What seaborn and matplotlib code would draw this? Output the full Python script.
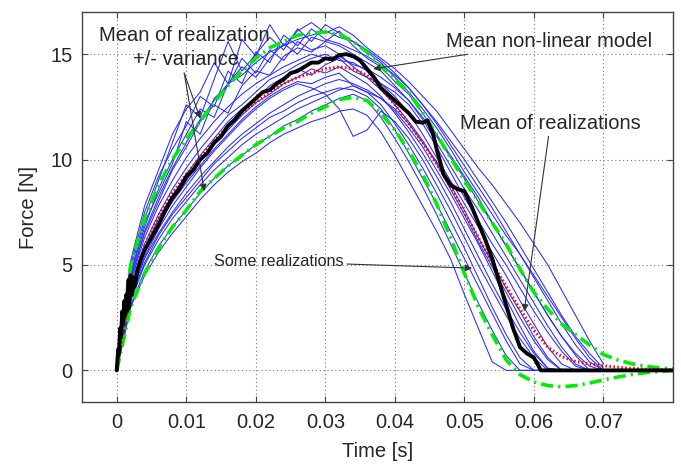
import numpy as np
import pandas as pd
import matplotlib
matplotlib.use("Agg")
import matplotlib.pyplot as plt
import seaborn as sns

# ---------------- data ----------------
# time grid of realizations, ms
t_real_ms = [0, 2, 4, 6, 8, 10, 12, 14, 16, 18, 20, 22, 24, 26, 28, 30, 32, 34,
             36, 38, 40, 42, 44, 46, 48, 50, 52, 54, 56, 58, 60, 62, 64, 66, 68, 70]

real_01 = [0, 5.2, 7.8, 9.5, 11.2, 12.4, 13.2, 14.6, 13.6, 15.7, 14.9, 16.4, 15.4, 16.1, 16.5, 16.0, 16.3, 15.9,
           15.3, 14.8, 14.3, 13.7, 13.0, 12.3, 11.4, 10.5, 9.6, 8.8, 7.9, 7.0, 6.0, 5.0, 3.8, 2.6, 1.4, 0.3]
real_02 = [0, 4.8, 7.2, 9.0, 10.8, 12.6, 12.0, 13.8, 15.6, 14.2, 15.0, 15.8, 15.2, 16.2, 15.6, 16.4, 16.0, 15.6,
           15.1, 14.6, 13.9, 13.2, 12.4, 11.5, 10.5, 9.4, 8.4, 7.4, 6.4, 5.5, 4.5, 3.5, 2.5, 1.5, 0.6, 0.0]
real_03 = [0, 4.5, 6.8, 8.6, 10.0, 11.2, 12.4, 12.0, 13.6, 14.4, 13.9, 14.8, 15.5, 15.0, 15.8, 15.6, 16.1, 15.4,
           14.8, 14.4, 13.7, 13.1, 12.2, 11.2, 10.2, 9.2, 8.2, 7.0, 5.9, 4.8, 3.7, 2.6, 1.6, 0.7, 0.0, 0.0]
real_04 = [0, 4.4, 6.5, 8.0, 9.5, 10.6, 11.8, 12.6, 12.2, 13.5, 14.2, 14.0, 14.9, 15.3, 15.1, 15.6, 15.4, 15.0,
           14.6, 14.2, 13.5, 12.8, 11.9, 10.8, 9.7, 8.6, 7.6, 6.5, 5.4, 4.3, 3.2, 2.1, 1.1, 0.3, 0.0, 0.0]
real_05 = [0, 4.0, 6.0, 7.4, 8.6, 9.6, 10.5, 11.3, 12.1, 12.6, 13.2, 13.8, 14.1, 14.5, 14.8, 15.0, 14.7, 14.6,
           14.2, 13.6, 13.0, 12.2, 11.2, 10.1, 9.0, 7.9, 6.8, 5.6, 4.5, 3.3, 2.2, 1.1, 0.3, 0.0, 0.0, 0.0]
real_06 = [0, 3.9, 5.8, 7.2, 8.3, 9.3, 10.2, 11.0, 11.8, 12.4, 12.9, 13.5, 13.9, 14.3, 14.0, 14.5, 14.8, 14.2,
           13.9, 13.3, 12.6, 11.8, 10.9, 9.8, 8.6, 7.4, 6.1, 4.9, 3.7, 2.5, 1.4, 0.5, 0.0, 0.0, 0.0, 0.0]
real_07 = [0, 3.8, 5.7, 7.0, 8.1, 9.0, 9.9, 10.7, 11.4, 12.1, 12.7, 13.1, 13.6, 13.9, 14.3, 14.1, 14.4, 14.0,
           13.6, 13.0, 12.2, 11.3, 10.3, 9.2, 8.0, 6.7, 5.4, 4.1, 2.9, 1.8, 0.8, 0.1, 0.0, 0.0, 0.0, 0.0]
real_08 = [0, 3.6, 5.4, 6.7, 7.8, 8.7, 9.6, 10.4, 11.1, 11.8, 12.4, 12.9, 13.3, 13.6, 13.4, 13.1, 12.4, 11.1,
           11.4, 12.3, 11.8, 11.0, 10.0, 8.8, 7.6, 6.3, 5.0, 3.8, 2.6, 1.5, 0.6, 0.0, 0.0, 0.0, 0.0, 0.0]
real_09 = [0, 3.3, 5.0, 6.2, 7.2, 8.0, 8.8, 9.5, 10.1, 10.7, 11.2, 11.6, 12.0, 12.4, 12.7, 13.0, 13.3, 13.5,
           13.2, 12.6, 11.7, 10.7, 9.6, 8.4, 7.1, 5.8, 4.4, 3.0, 1.7, 0.6, 0.0, 0.0, 0.0, 0.0, 0.0, 0.0]
real_10 = [0, 3.1, 4.7, 5.9, 6.8, 7.6, 8.4, 9.1, 9.7, 10.2, 10.7, 11.1, 11.6, 11.9, 12.3, 12.6, 12.9, 13.1,
           12.8, 12.0, 11.0, 9.9, 8.7, 7.4, 6.0, 4.6, 3.2, 1.9, 0.7, 0.0, 0.0, 0.0, 0.0, 0.0, 0.0, 0.0]
real_11 = [0, 3.0, 4.5, 5.6, 6.5, 7.3, 8.1, 8.8, 9.4, 9.9, 10.3, 10.8, 11.2, 11.5, 11.8, 12.0, 12.3, 12.4,
           12.1, 11.3, 10.2, 9.0, 7.8, 6.6, 5.3, 3.6, 2.0, 0.4, 0.0, 0.0, 0.0, 0.0, 0.0, 0.0, 0.0, 0.0]
real_12 = [0, 5.0, 7.5, 9.2, 10.5, 11.6, 13.0, 12.5, 14.2, 13.6, 15.1, 14.6, 15.9, 15.4, 16.2, 15.7, 15.5, 15.2,
           14.9, 14.5, 14.0, 13.4, 12.6, 11.8, 10.9, 10.0, 9.0, 8.0, 7.0, 5.9, 4.8, 3.7, 2.6, 1.6, 0.8, 0.1]
real_13 = [0, 3.5, 5.3, 6.5, 7.5, 8.4, 9.2, 9.9, 10.6, 11.2, 11.7, 12.2, 12.6, 13.0, 13.3, 13.6, 13.8, 13.6,
           13.3, 12.9, 12.3, 11.5, 10.6, 9.5, 8.4, 7.2, 6.0, 4.7, 3.4, 2.1, 0.9, 0.1, 0.0, 0.0, 0.0, 0.0]
real_14 = [0, 4.2, 6.3, 7.8, 9.0, 10.1, 11.0, 11.8, 12.5, 13.1, 13.6, 14.0, 14.4, 14.7, 15.0, 14.8, 14.9, 14.5,
           14.3, 13.9, 13.4, 12.8, 12.0, 11.1, 10.1, 9.1, 8.0, 7.0, 5.9, 4.8, 3.7, 2.6, 1.6, 0.8, 0.2, 0.0]
real_15 = [0, 4.6, 7.0, 8.4, 9.8, 11.8, 11.2, 12.9, 13.5, 14.8, 14.1, 15.2, 14.7, 15.6, 15.2, 15.4, 15.0, 14.4,
           13.9, 13.6, 13.2, 12.6, 11.7, 10.6, 9.4, 8.2, 7.1, 6.0, 5.0, 3.9, 2.8, 1.8, 0.9, 0.2, 0.0, 0.0]
real_16 = [0, 3.4, 5.1, 6.4, 7.4, 8.2, 9.0, 9.8, 10.4, 11.0, 11.5, 12.0, 12.3, 12.7, 13.0, 13.2, 13.4, 13.3,
           13.0, 12.4, 11.4, 10.3, 9.1, 7.9, 6.6, 5.3, 4.0, 2.7, 1.4, 0.3, 0.0, 0.0, 0.0, 0.0, 0.0, 0.0]
real_17 = [0, 4.3, 6.6, 8.2, 9.6, 10.8, 11.9, 12.8, 13.6, 14.0, 14.6, 15.1, 15.4, 15.7, 15.9, 16.1, 15.8, 15.6,
           15.2, 14.7, 14.1, 13.4, 12.6, 11.7, 10.7, 9.7, 8.7, 7.7, 6.6, 5.5, 4.4, 3.3, 2.2, 1.2, 0.4, 0.0]
real_18 = [0, 3.7, 5.6, 6.9, 8.0, 8.9, 9.7, 10.5, 11.2, 11.9, 12.5, 13.0, 13.4, 13.7, 13.6, 13.9, 14.1, 13.5,
           13.2, 12.9, 12.4, 11.7, 10.8, 9.9, 8.8, 7.6, 6.3, 5.1, 3.9, 2.8, 1.6, 0.6, 0.0, 0.0, 0.0, 0.0]
realizations = [real_01, real_02, real_03, real_04, real_05, real_06, real_07, real_08, real_09,
                real_10, real_11, real_12, real_13, real_14, real_15, real_16, real_17, real_18]

# statistics grid, ms
t_stat_ms = [0, 2, 4, 6, 8, 10, 12, 14, 16, 18, 20, 22, 24, 26, 28, 30, 32, 34, 36, 38,
             40, 42, 44, 46, 48, 50, 52, 54, 56, 58, 60, 62, 64, 66, 68, 70, 72, 74, 76, 78, 80]
mean_real = [0, 4.0, 5.9, 7.3, 8.4, 9.3, 10.1, 10.9, 11.6, 12.2, 12.7, 13.2, 13.6, 13.9, 14.1, 14.3, 14.4, 14.3,
             14.0, 13.4, 12.6, 11.7, 10.8, 9.8, 8.7, 7.5, 6.3, 5.1, 4.0, 2.9, 1.9, 1.1, 0.65, 0.42, 0.3, 0.22,
             0.15, 0.1, 0.06, 0.04, 0.02]
mean_plus_var = [0, 5.0, 7.2, 8.8, 10.0, 11.0, 11.8, 12.7, 13.5, 14.2, 14.8, 15.3, 15.6, 15.9, 16.0, 16.05, 15.95,
                 15.6, 15.1, 14.4, 13.8, 13.2, 12.2, 11.2, 10.1, 9.0, 8.0, 7.0, 6.0, 4.8, 3.7, 2.9, 2.2, 1.7,
                 1.2, 0.75, 0.5, 0.32, 0.2, 0.12, 0.07]
mean_minus_var = [0, 3.0, 4.6, 5.8, 6.8, 7.6, 8.5, 9.1, 9.7, 10.2, 10.7, 11.1, 11.5, 11.8, 12.2, 12.5, 12.85,
                  12.95, 12.8, 12.2, 11.4, 10.4, 9.3, 7.9, 6.3, 4.6, 3.0, 1.7, 0.5, -0.2, -0.55, -0.72, -0.78,
                  -0.72, -0.6, -0.45, -0.32, -0.2, -0.11, -0.05, 0.0]

# mean non-linear model, ms
t_model_ms = [0, 0.2, 0.3, 0.5, 0.6, 0.8, 0.9, 1.1, 1.2, 1.4, 1.5, 1.7, 1.8, 2.0, 2.2, 2.4, 2.6, 3.0, 3.5, 4.0,
              4.5, 5, 6, 7, 8, 9, 10, 11, 12, 13, 14, 15, 16, 17, 18, 19, 20, 21, 22, 23, 24, 25, 26, 27, 28,
              29, 30, 31, 32, 33, 34, 35, 36, 37, 38, 39, 40, 41, 42, 43, 44, 44.7, 45.5, 46, 47, 48, 49, 50,
              51, 52, 53, 54, 55, 56, 57, 58, 59, 60, 61, 70, 80]
model = [0, 1.0, 0.8, 2.0, 1.6, 2.8, 2.2, 3.3, 2.6, 3.6, 2.8, 4.3, 3.0, 4.5, 3.6, 4.4, 4.0, 4.8, 5.3, 5.7,
         6.0, 6.3, 6.9, 7.6, 8.2, 8.6, 9.2, 9.5, 10.0, 10.3, 10.8, 11.1, 11.6, 11.9, 12.3, 12.6, 12.9, 13.2,
         13.3, 13.6, 13.8, 14.1, 14.2, 14.4, 14.6, 14.6, 14.8, 14.75, 14.95, 15.0, 14.9, 14.7, 14.3, 13.9,
         13.4, 13.1, 12.8, 12.5, 12.2, 11.8, 11.75, 11.85, 11.2, 10.5, 9.3, 8.8, 8.6, 8.5, 7.8, 7.0, 6.2, 5.3,
         4.2, 3.1, 2.0, 1.1, 0.8, 0.6, 0.0, 0.0, 0.0]

x_ticks = [0, 0.01, 0.02, 0.03, 0.04, 0.05, 0.06, 0.07]
x_tick_labels = ["0", "0.01", "0.02", "0.03", "0.04", "0.05", "0.06", "0.07"]
y_ticks = [0, 5, 10, 15]
y_tick_labels = ["0", "5", "10", "15"]

# ---------------- plot ----------------
sns.set_style("white")
plt.rcParams["font.family"] = ["Liberation Sans", "DejaVu Sans"]

fig = plt.figure(figsize=(6.81, 4.69), dpi=100)
ax = fig.add_axes([82 / 681, 1 - 402 / 469, (673 - 82) / 681, (402 - 12) / 469])

t_real = np.array(t_real_ms) / 1000.0
for r in realizations:
    sns.lineplot(x=t_real, y=r, ax=ax, color="#2a2aff", lw=0.75, sort=False,
                 estimator=None, zorder=2)

t_stat = np.array(t_stat_ms) / 1000.0
for s in (mean_plus_var, mean_minus_var):
    sns.lineplot(x=t_stat, y=s, ax=ax, color="#00ee00", lw=2.6, sort=False,
                 estimator=None, zorder=3)
    ax.lines[-1].set_dashes((3.4, 1.4, 0.6, 1.4))

sns.lineplot(x=t_stat, y=mean_real, ax=ax, color="red", lw=2.2, sort=False,
             estimator=None, zorder=4)
ax.lines[-1].set_dashes((0.5, 0.8))
sns.lineplot(x=np.array(t_model_ms) / 1000.0, y=model, ax=ax, color="black", lw=2.8,
             sort=False, estimator=None, zorder=5)

ax.set_xlim(-0.005, 0.08)
ax.set_ylim(-1.5, 17)
ax.set_xticks(x_ticks)
ax.set_xticklabels(x_tick_labels)
ax.set_yticks(y_ticks)
ax.set_yticklabels(y_tick_labels)
ax.tick_params(direction="in", length=4, width=0.8, color="#444444", labelsize=14.5,
               top=True, right=True, bottom=True, left=True)
ax.tick_params(axis="x", pad=8)
ax.tick_params(axis="y", pad=7)
ax.grid(True, linestyle=(0, (1, 2.5)), color="#777777", lw=0.8)
for sp in ax.spines.values():
    sp.set_color("#444444")
    sp.set_linewidth(1.0)

ax.set_xlabel("Time [s]", fontsize=14.5, labelpad=7)
ax.set_ylabel("Force [N]", fontsize=14.5, labelpad=9)

arrow = dict(arrowstyle="-|>", color="#333333", lw=0.8, mutation_scale=10, shrinkA=0, shrinkB=0)
ax.text(0.0097, 15.9, "Mean of realization", fontsize=14.5, ha="center", va="center", zorder=6)
ax.text(0.0100, 14.75, "+/- variance", fontsize=14.5, ha="center", va="center", zorder=6)
ax.annotate("", xy=(0.0120, 11.95), xytext=(0.0097, 14.1), arrowprops=arrow, zorder=6)
ax.annotate("", xy=(0.0126, 8.5), xytext=(0.0097, 14.1), arrowprops=arrow, zorder=6)

ax.annotate("Mean non-linear model", xy=(0.0369, 14.3), xytext=(0.0474, 15.6),
            fontsize=14.5, ha="left", va="center", arrowprops=arrow, zorder=6)
ax.annotate("", xy=(0.0586, 2.8), xytext=(0.0621, 11.1), arrowprops=arrow, zorder=6)
ax.text(0.0493, 11.7, "Mean of realizations", fontsize=14.5, ha="left", va="center", zorder=6)
ax.annotate("Some realizations", xy=(0.0511, 4.85), xytext=(0.0140, 5.15),
            fontsize=11.7, ha="left", va="center", arrowprops=arrow, zorder=6)

fig.savefig("out.png", dpi=100)
